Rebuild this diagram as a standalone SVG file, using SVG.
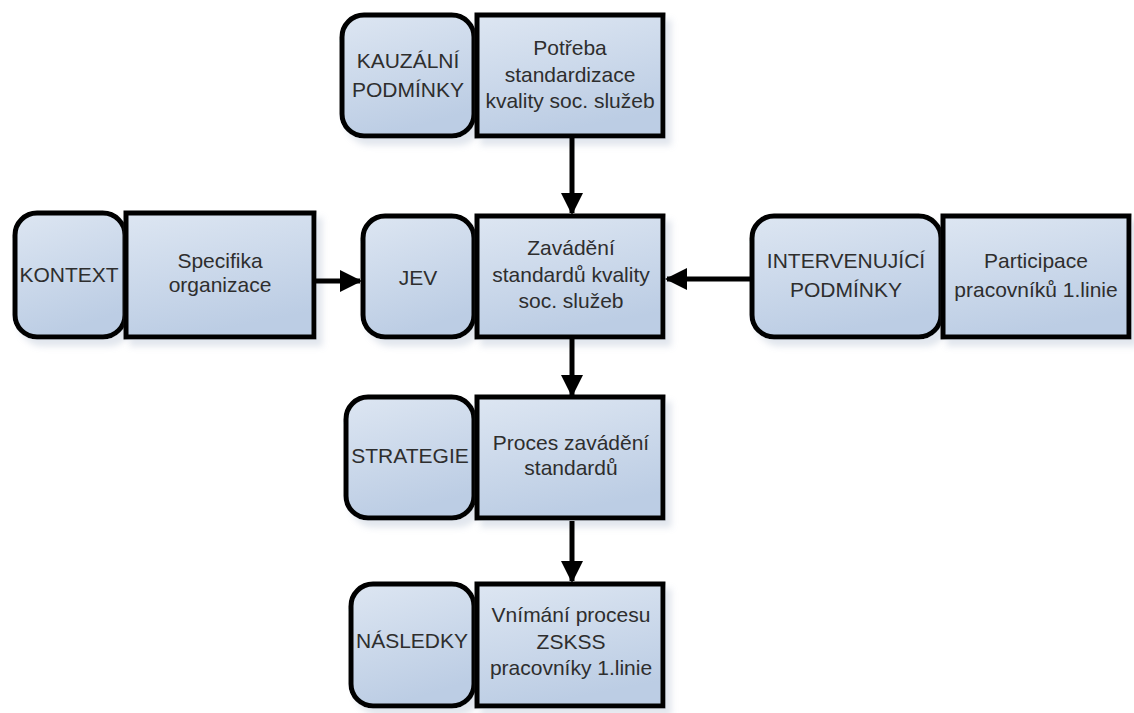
<svg xmlns="http://www.w3.org/2000/svg" width="1134" height="713" viewBox="0 0 1134 713">
<defs>
<linearGradient id="g" x1="0" y1="0" x2="0.3" y2="1">
<stop offset="0" stop-color="#dde6f2"/>
<stop offset="1" stop-color="#bccde4"/>
</linearGradient>
<filter id="sh" x="-10%" y="-10%" width="130%" height="130%">
<feGaussianBlur in="SourceAlpha" stdDeviation="3"/>
<feOffset dx="6" dy="7" result="b"/>
<feFlood flood-color="#c4cedc" flood-opacity="0.5"/>
<feComposite in2="b" operator="in"/>
<feMerge><feMergeNode/><feMergeNode in="SourceGraphic"/></feMerge>
</filter>
<marker id="ah" markerWidth="4.4" markerHeight="4.4" refX="4" refY="2.2" orient="auto" markerUnits="strokeWidth">
<path d="M0,0 L4.4,2.2 L0,4.4 Z" fill="#000"/>
</marker>
</defs>
<style>
.lab{fill:url(#g);stroke:#000;stroke-width:5;filter:url(#sh)}
.box{fill:url(#g);stroke:#000;stroke-width:5;filter:url(#sh)}
text{font-family:"Liberation Sans",Arial,sans-serif;font-size:21px;fill:#2e2e2e;text-anchor:middle}
.con{stroke:#000;stroke-width:5;fill:none;marker-end:url(#ah)}
</style>
<g id="kauzalni">
<rect class="lab" x="342" y="15" width="132" height="121" rx="22"/>
<text x="408" y="68">KAUZÁLNÍ</text>
<text x="408" y="97">PODMÍNKY</text>
</g>
<g id="potreba">
<rect class="box" x="477" y="15" width="186" height="121"/>
<text x="570" y="55">Potřeba</text>
<text x="570" y="82">standardizace</text>
<text x="570" y="108">kvality soc. služeb</text>
</g>
<g id="kontext">
<rect class="lab" x="15" y="213" width="110" height="124" rx="22"/>
<text x="69" y="282">KONTEXT</text>
</g>
<g id="specifika">
<rect class="box" x="126" y="213" width="188" height="124"/>
<text x="220" y="268">Specifika</text>
<text x="220" y="292">organizace</text>
</g>
<g id="jev">
<rect class="lab" x="363" y="216" width="111" height="121" rx="22"/>
<text x="418" y="285">JEV</text>
</g>
<g id="zavadeni">
<rect class="box" x="477" y="216" width="186" height="121"/>
<text x="571" y="255">Zavádění</text>
<text x="571" y="282">standardů kvality</text>
<text x="571" y="308">soc. služeb</text>
</g>
<g id="intervenujici">
<rect class="lab" x="752" y="216" width="189" height="121" rx="22"/>
<text x="846" y="268">INTERVENUJÍCÍ</text>
<text x="846" y="297">PODMÍNKY</text>
</g>
<g id="participace">
<rect class="box" x="943" y="216" width="186" height="121"/>
<text x="1036" y="268">Participace</text>
<text x="1036" y="297">pracovníků 1.linie</text>
</g>
<g id="strategie">
<rect class="lab" x="346" y="397" width="128" height="121" rx="22"/>
<text x="410" y="463">STRATEGIE</text>
</g>
<g id="proces">
<rect class="box" x="477" y="397" width="186" height="121"/>
<text x="571" y="450">Proces zavádění</text>
<text x="571" y="475">standardů</text>
</g>
<g id="nasledky">
<rect class="lab" x="351" y="584" width="123" height="122" rx="22"/>
<text x="412" y="648">NÁSLEDKY</text>
</g>
<g id="vnimani">
<rect class="box" x="477" y="584" width="186" height="122"/>
<text x="571" y="622">Vnímání procesu</text>
<text x="571" y="649">ZSKSS</text>
<text x="571" y="675">pracovníky 1.linie</text>
</g>
<g id="connectors">
<line class="con" x1="572" y1="138" x2="572" y2="213"/>
<line class="con" x1="316" y1="281" x2="360" y2="281"/>
<line class="con" x1="750" y1="279" x2="667" y2="279"/>
<line class="con" x1="572" y1="339" x2="572" y2="395"/>
<line class="con" x1="572" y1="521" x2="572" y2="581"/>
</g>
</svg>
